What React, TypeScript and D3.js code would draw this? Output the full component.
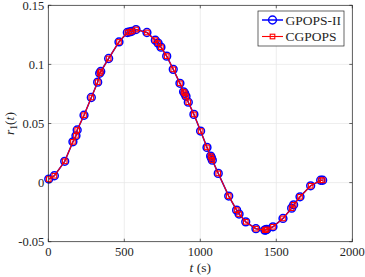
import React from "react";
import * as d3 from "d3";

const tValues = [3, 40, 108, 162, 182, 190, 235, 283, 325, 338, 345, 397, 465, 520, 535, 549, 577, 649, 704, 722, 741, 779, 822, 866, 890, 897, 906, 921, 958, 1002, 1044, 1068, 1073, 1079, 1118, 1187, 1239, 1255, 1299, 1366, 1424, 1430, 1437, 1478, 1544, 1601, 1614, 1656, 1726, 1792, 1805];
const gpopsR1 = [0.003, 0.0058, 0.018, 0.0345, 0.0396, 0.0445, 0.057, 0.072, 0.085, 0.0925, 0.094, 0.105, 0.119, 0.127, 0.1275, 0.128, 0.1295, 0.127, 0.1205, 0.118, 0.1146, 0.107, 0.0958, 0.084, 0.0768, 0.0755, 0.073, 0.068, 0.0577, 0.0436, 0.0298, 0.0224, 0.021, 0.019, 0.0078, -0.0114, -0.0233, -0.0266, -0.0332, -0.039, -0.0402, -0.0401, -0.0396, -0.0374, -0.0303, -0.0216, -0.0188, -0.012, -0.0027, 0.002, 0.002];
const cgpopsR1 = [0.003, 0.0058, 0.018, 0.0345, 0.0396, 0.0445, 0.057, 0.072, 0.085, 0.0925, 0.094, 0.105, 0.119, 0.127, 0.1275, 0.128, 0.1295, 0.127, 0.1205, 0.118, 0.1146, 0.107, 0.0958, 0.084, 0.0768, 0.0755, 0.073, 0.068, 0.0577, 0.0436, 0.0298, 0.0224, 0.021, 0.019, 0.0078, -0.0114, -0.0233, -0.0266, -0.0332, -0.039, -0.0402, -0.0401, -0.0396, -0.0374, -0.0303, -0.0216, -0.0188, -0.012, -0.0027, 0.002, 0.002];
const xTicks = [0, 500, 1000, 1500, 2000];
const yTicks = [-0.05, 0, 0.05, 0.1, 0.15];
const yTickLabels = ["-0.05", "0", "0.05", "0.1", "0.15"];
const seriesNames = ["GPOPS-II", "CGPOPS"];

const W = 365, H = 277;
const L = 48.3, R = 352.3, T = 5.3, B = 241.7;
const font = "'Liberation Serif', 'DejaVu Serif', serif";

export default function App() {
  const x = d3.scaleLinear().domain([0, 2000]).range([L, R]);
  const y = d3.scaleLinear().domain([-0.05, 0.15]).range([B, T]);
  const lineG = d3.line<number>().x((_, i) => x(tValues[i])).y((d) => y(d));
  const tick = 3;
  return (
    <svg width={W} height={H} style={{ position: "absolute", left: 0, top: 0 }} fontFamily={font}>
      <rect x={0} y={0} width={W} height={H} fill="white" />
      {xTicks.map((t) => (
        <line key={"gx" + t} x1={x(t)} x2={x(t)} y1={T} y2={B} stroke="#e6e6e6" strokeWidth={0.7} />
      ))}
      {yTicks.map((v) => (
        <line key={"gy" + v} x1={L} x2={R} y1={y(v)} y2={y(v)} stroke="#e6e6e6" strokeWidth={0.7} />
      ))}
      <path d={lineG(gpopsR1) || ""} fill="none" stroke="#0000ff" strokeWidth={1.5} />
      {gpopsR1.map((v, i) => (
        <circle key={"c" + i} cx={x(tValues[i])} cy={y(v)} r={3.9} fill="none" stroke="#0000ff" strokeWidth={1.5} />
      ))}
      <path d={lineG(cgpopsR1) || ""} fill="none" stroke="#ff0000" strokeWidth={1.1} />
      {cgpopsR1.map((v, i) => (
        <rect key={"s" + i} x={x(tValues[i]) - 2.3} y={y(v) - 2.3} width={4.6} height={4.6} fill="none" stroke="#ff0000" strokeWidth={1.1} />
      ))}
      <rect x={L} y={T} width={R - L} height={B - T} fill="none" stroke="#262626" strokeWidth={0.7} />
      {xTicks.map((t) => (
        <g key={"tx" + t}>
          <line x1={x(t)} x2={x(t)} y1={B} y2={B - tick} stroke="#262626" strokeWidth={0.7} />
          <line x1={x(t)} x2={x(t)} y1={T} y2={T + tick} stroke="#262626" strokeWidth={0.7} />
          <text x={x(t)} y={B + 14.5} fontSize={12.5} textAnchor="middle" fill="#262626">{t}</text>
        </g>
      ))}
      {yTicks.map((v, i) => (
        <g key={"ty" + v}>
          <line x1={L} x2={L + tick} y1={y(v)} y2={y(v)} stroke="#262626" strokeWidth={0.7} />
          <line x1={R} x2={R - tick} y1={y(v)} y2={y(v)} stroke="#262626" strokeWidth={0.7} />
          <text x={L - 4} y={y(v) + 4.2} fontSize={12.5} textAnchor="end" fill="#262626">{yTickLabels[i]}</text>
        </g>
      ))}
      <text x={(L + R) / 2} y={272} fontSize={13.5} textAnchor="middle" fill="#262626">
        <tspan fontStyle="italic">t</tspan> (s)
      </text>
      <text transform={`translate(14,${(T + B) / 2}) rotate(-90)`} fontSize={13.5} textAnchor="middle" fill="#262626">
        <tspan fontStyle="italic">r</tspan><tspan fontSize={9.5} dy={3}>1</tspan><tspan dy={-3}>(</tspan><tspan fontStyle="italic">t</tspan>)
      </text>
      <rect x={258} y={11} width={86} height={35} fill="white" stroke="#262626" strokeWidth={0.7} />
      <line x1={262} x2={283} y1={20} y2={20} stroke="#0000ff" strokeWidth={1.5} />
      <circle cx={272.5} cy={20} r={3.9} fill="none" stroke="#0000ff" strokeWidth={1.5} />
      <text x={285.5} y={24.8} fontSize={13.5} fill="#262626">{seriesNames[0]}</text>
      <line x1={262} x2={283} y1={36.5} y2={36.5} stroke="#ff0000" strokeWidth={1.1} />
      <rect x={270.2} y={34.2} width={4.6} height={4.6} fill="none" stroke="#ff0000" strokeWidth={1.1} />
      <text x={285.5} y={41.3} fontSize={13.5} fill="#262626">{seriesNames[1]}</text>
    </svg>
  );
}
